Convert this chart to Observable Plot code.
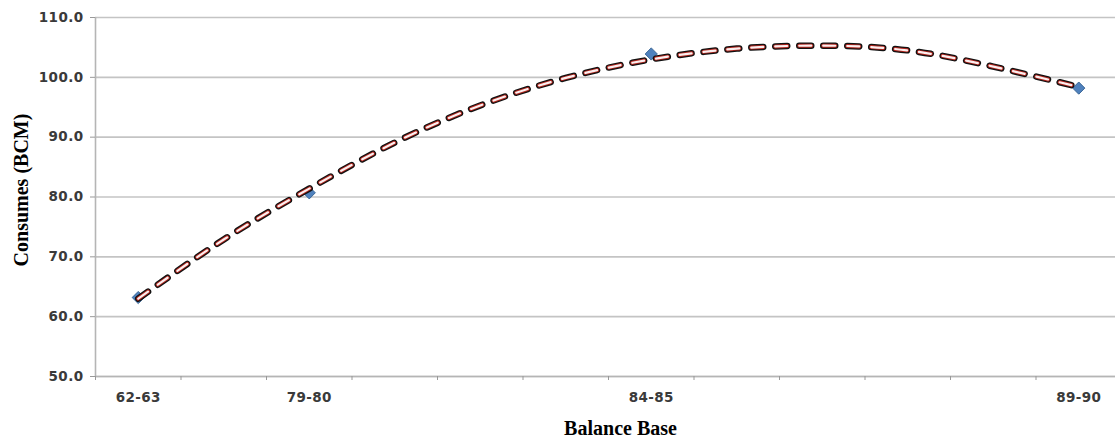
<!DOCTYPE html>
<html>
<head>
<meta charset="utf-8">
<script src="https://cdn.jsdelivr.net/npm/d3@7"></script>
<script src="https://cdn.jsdelivr.net/npm/@observablehq/plot@0.6"></script>
<style>
  html, body { margin: 0; padding: 0; background: #fff; }
  #chart svg { display: block; }
  g[aria-label="x-axis label"] text, g[aria-label="y-axis label"] text {
    font-family: "Liberation Serif", serif; font-weight: bold; font-size: 20px; fill: #000;
  }
  g[aria-label="y-axis tick label"] text, g[aria-label="x-axis tick label"] text {
    font-family: "DejaVu Sans", sans-serif; font-weight: bold; font-size: 13.5px; fill: #3a3a3a; letter-spacing: 0.4px;
  }
</style>
</head>
<body>
<div id="chart"></div>
<script>
// Categories (12 balance periods on the axis, 4 labelled and measured)
const categories = ["62-63", "79-80", "84-85", "89-90"];
const categoryIndex = [0, 2, 6, 11];
const consumes = [63.2, 80.7, 103.9, 98.2];

// Polynomial trend line at each category slot
const trendIndex = [0, 1, 2, 3, 4, 5, 6, 7, 8, 9, 10, 11];
const trendValues = [63.0, 72.9, 81.4, 89.1, 95.3, 99.9, 103.0, 104.8, 105.3, 104.5, 101.8, 98.4];

const yTicks = [50, 60, 70, 80, 90, 100, 110];
const xSlotBounds = [-0.5, 0.5, 1.5, 2.5, 3.5, 4.5, 5.5, 6.5, 7.5, 8.5, 9.5, 10.5];
const xDomain = [-0.5, 11.5];
const yDomain = [50, 110];

const points = categories.map((c, i) => ({cat: c, idx: categoryIndex[i], value: consumes[i]}));
const trend = trendIndex.map((t, i) => ({idx: t, value: trendValues[i]}));
const labelOf = new Map(categoryIndex.map((k, i) => [k, categories[i]]));

const dash = "12,12";
const chart = Plot.plot({
  width: 1115,
  height: 439,
  marginTop: 17,
  marginBottom: 63,
  marginLeft: 95,
  marginRight: 0,
  style: {background: "#fff", overflow: "hidden"},
  x: {type: "linear", domain: xDomain, range: [95, 1121]},
  y: {domain: yDomain},
  marks: [
    Plot.gridY(yTicks, {stroke: "#c4c4c4", strokeOpacity: 1, strokeWidth: 1.6}),
    Plot.ruleY([yDomain[0]], {stroke: "#b5b5b5", strokeWidth: 1.6}),
    Plot.ruleX([xDomain[0]], {stroke: "#b5b5b5", strokeWidth: 1.6}),
    Plot.axisY(yTicks, {
      tickFormat: d => d.toFixed(1), tickSize: 5, tickPadding: 7, stroke: "#999",
      label: "Consumes (BCM)", labelAnchor: "center", labelArrow: "none", labelOffset: 78
    }),
    Plot.axisX(xSlotBounds, {tickSize: 4, tickFormat: () => "", stroke: "#999", label: null}),
    Plot.axisX(categoryIndex, {
      tickSize: 0, tickPadding: 16, tickFormat: d => labelOf.get(d),
      label: "Balance Base", labelAnchor: "center", labelArrow: "none", labelOffset: 52
    }),
    Plot.dot(points, {x: "idx", y: "value", symbol: "diamond2", r: 5.5, fill: "#4f81bd", stroke: "#3a6797", strokeWidth: 1}),
    Plot.line(trend, {x: "idx", y: "value", curve: "natural", stroke: "#111", strokeWidth: 6.5, strokeDasharray: dash, strokeLinecap: "round"}),
    Plot.line(trend, {x: "idx", y: "value", curve: "natural", stroke: "#b3261e", strokeWidth: 4, strokeDasharray: dash, strokeLinecap: "round"}),
    Plot.line(trend, {x: "idx", y: "value", curve: "natural", stroke: "#fbeeee", strokeWidth: 2.2, strokeDasharray: dash, strokeLinecap: "round"})
  ]
});
document.getElementById("chart").appendChild(chart);
// nudge the axis titles to where the reference places them
function nudge(sel, dx, dy) {
  const g = d3.select(chart).select(sel);
  const t = g.attr("transform") || "";
  g.attr("transform", `translate(${dx},${dy}) ${t}`);
}
nudge('g[aria-label="x-axis label"]', 15, 6);
nudge('g[aria-label="y-axis label"]', -4, -7);
</script>
</body>
</html>
